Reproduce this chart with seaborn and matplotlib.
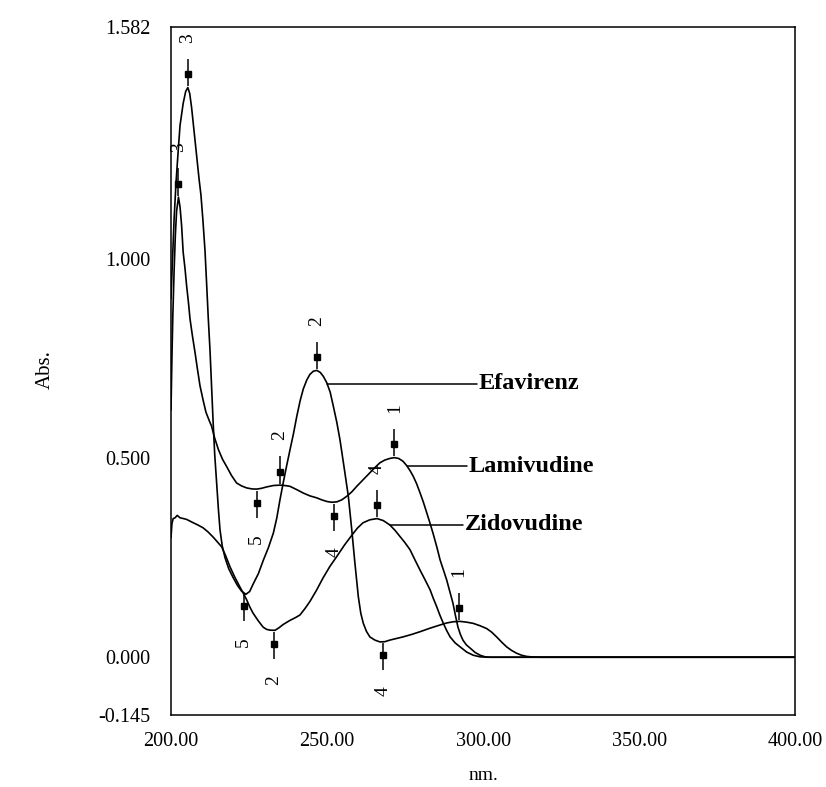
import numpy as np
import pandas as pd
import matplotlib
matplotlib.use("Agg")
import matplotlib.pyplot as plt
import seaborn as sns

# ---------------- data ----------------
efa_nm = [200.0, 200.5, 201.0, 201.6, 202.3, 202.9, 203.9, 204.7, 205.4, 206.0, 206.6, 207.4,
          208.2, 209.0, 209.6, 210.2, 210.9, 211.4, 211.95, 212.5, 213.0, 213.5, 214.0, 214.6,
          215.2, 215.7, 216.4, 217.3, 218.5, 219.9, 221.3, 222.6, 224.0, 225.2, 226.4, 228.0,
          229.6, 231.2, 232.8, 233.9, 234.9, 236.0, 237.0, 238.1, 239.2, 240.3, 241.4, 242.4,
          243.5, 244.5, 245.6, 246.7, 247.8, 248.8, 249.9, 251.0, 252.0, 253.1, 254.1, 255.0,
          255.7, 256.8, 257.9, 258.9, 260.0, 260.8, 261.6, 262.6, 263.7, 265.3, 266.9, 268.5,
          270.1, 272.2, 274.3, 277.0, 279.75, 283.0, 286.2, 288.3, 290.4, 292.6, 294.7, 296.8,
          299.0, 301.1, 302.7, 304.3, 305.9, 307.5, 309.1, 310.7, 312.3, 313.9, 316.0, 318.2, 400.0]
efa_abs = [0.90, 1.00, 1.10, 1.19, 1.27, 1.335, 1.39, 1.42, 1.43, 1.415, 1.38, 1.32,
           1.26, 1.20, 1.16, 1.10, 1.02, 0.94, 0.85, 0.77, 0.68, 0.59, 0.51, 0.44,
           0.37, 0.32, 0.28, 0.25, 0.222, 0.20, 0.18, 0.166, 0.158, 0.165, 0.185, 0.21,
           0.244, 0.275, 0.312, 0.35, 0.395, 0.44, 0.479, 0.52, 0.56, 0.605, 0.645, 0.674,
           0.696, 0.71, 0.718, 0.72, 0.715, 0.705, 0.689, 0.665, 0.63, 0.59, 0.547, 0.50,
           0.463, 0.404, 0.32, 0.237, 0.152, 0.11, 0.085, 0.065, 0.051, 0.043, 0.0385, 0.039,
           0.043, 0.047, 0.051, 0.057, 0.064, 0.073, 0.081, 0.086, 0.089, 0.090, 0.088, 0.085,
           0.079, 0.072, 0.063, 0.051, 0.038, 0.026, 0.017, 0.010, 0.005, 0.002, 0.0005, 0.0, 0.0]

lam_nm = [200.0, 200.3, 200.6, 201.0, 201.4, 201.8, 202.4, 202.9, 203.4, 203.9, 204.5, 205.0,
          205.6, 206.1, 206.9, 207.7, 208.5, 209.3, 210.3, 211.2, 212.2, 213.0, 214.0, 215.2,
          216.5, 217.8, 219.4, 221.0, 222.6, 224.25, 225.9, 227.45, 229.0, 230.65, 232.8, 234.9,
          236.5, 238.1, 240.2, 242.4, 244.5, 246.7, 248.3, 249.9, 251.5, 253.1, 254.7, 256.3,
          257.9, 259.5, 261.6, 263.7, 265.3, 266.9, 268.5, 270.1, 271.5, 272.9, 274.3, 275.5,
          276.6, 277.6, 278.7, 279.75, 280.8, 281.9, 282.9, 283.9, 285.1, 286.2, 287.3, 288.3,
          289.3, 290.3, 291.1, 291.9, 292.7, 293.5, 294.6, 295.8, 297.4, 299.0, 300.6, 302.2, 400.0]
lam_abs = [0.62, 0.75, 0.86, 0.97, 1.06, 1.12, 1.155, 1.13, 1.084, 1.017, 0.975, 0.933,
           0.89, 0.849, 0.805, 0.765, 0.722, 0.681, 0.645, 0.615, 0.595, 0.58, 0.55, 0.521,
           0.497, 0.479, 0.456, 0.4375, 0.43, 0.425, 0.4225, 0.422, 0.424, 0.4275, 0.431, 0.432,
           0.431, 0.429, 0.421, 0.412, 0.405, 0.40, 0.395, 0.391, 0.389, 0.390, 0.395, 0.404,
           0.415, 0.429, 0.446, 0.463, 0.476, 0.488, 0.495, 0.499, 0.501, 0.499, 0.492, 0.481,
           0.468, 0.454, 0.435, 0.413, 0.39, 0.363, 0.338, 0.312, 0.278, 0.244, 0.218, 0.194,
           0.165, 0.136, 0.105, 0.076, 0.057, 0.043, 0.031, 0.023, 0.012, 0.005, 0.001, 0.0, 0.0]

zid_nm = [200.0, 200.3, 200.7, 201.3, 202.0, 202.9, 204.0, 205.0, 207.0, 208.6, 210.25, 211.8,
          213.45, 214.8, 216.24, 217.5, 218.9, 220.5, 222.1, 223.2, 224.25, 225.2, 226.26, 227.9,
          229.5, 230.6, 231.7, 233.3, 234.6, 235.9, 238.0, 240.0, 241.3, 242.9, 244.5, 246.6,
          248.7, 250.9, 253.2, 255.6, 258.0, 259.7, 261.5, 263.7, 266.0, 268.0, 270.1, 271.7,
          273.35, 274.9, 276.55, 278.1, 279.75, 281.4, 283.0, 284.0, 285.1, 286.1, 287.2, 288.3,
          289.4, 291.0, 292.6, 294.7, 296.8, 299.0, 301.1, 400.0]
zid_abs = [0.30, 0.335, 0.348, 0.350, 0.356, 0.350, 0.348, 0.346, 0.338, 0.332, 0.325, 0.315,
           0.302, 0.29, 0.277, 0.255, 0.227, 0.20, 0.176, 0.16, 0.144, 0.127, 0.111, 0.092,
           0.0756, 0.07, 0.068, 0.0675, 0.074, 0.082, 0.092, 0.100, 0.106, 0.122, 0.14, 0.168,
           0.199, 0.228, 0.254, 0.282, 0.307, 0.324, 0.3375, 0.345, 0.348, 0.343, 0.332, 0.319,
           0.303, 0.288, 0.27, 0.245, 0.219, 0.194, 0.169, 0.148, 0.127, 0.106, 0.0856, 0.067,
           0.051, 0.036, 0.026, 0.013, 0.005, 0.001, 0.0, 0.0]

drugs = ["Efavirenz", "Lamivudine", "Zidovudine"]

# peak / valley picks: (drug, wavelength, kind, label)
pick_drug = ["Efavirenz", "Efavirenz", "Efavirenz", "Efavirenz", "Efavirenz",
             "Lamivudine", "Lamivudine", "Lamivudine", "Lamivudine", "Lamivudine",
             "Zidovudine", "Zidovudine"]
pick_nm = [205.4, 246.7, 292.2, 223.3, 268.0,
           202.4, 234.9, 271.5, 227.5, 252.3,
           266.0, 233.0]
pick_kind = ["peak", "peak", "peak", "valley", "valley",
             "peak", "peak", "peak", "valley", "valley",
             "peak", "valley"]
pick_label = ["3", "2", "1", "5", "4",
              "3", "2", "1", "5", "4",
              "4", "2"]

# name labels: wavelength where leader starts, where it ends
name_start_nm = [250.0, 275.6, 270.1]
name_end_nm = [298.0, 294.8, 293.5]

x_ticks = [200, 250, 300, 350, 400]
x_tick_labels = ["200.00", "250.00", "300.00", "350.00", "400.00"]
y_ticks = [-0.145, 0.0, 0.5, 1.0, 1.5, 1.582]
y_tick_labels = ["-0.145", "0.000", "0.500", "1.000", "", "1.582"]

# ---------------- build ----------------
series = {"Efavirenz": (efa_nm, efa_abs), "Lamivudine": (lam_nm, lam_abs),
          "Zidovudine": (zid_nm, zid_abs)}
df = pd.concat([pd.DataFrame({"nm": v[0], "abs": v[1], "drug": k}) for k, v in series.items()],
               ignore_index=True)

sns.set_theme(style="white")
plt.rcParams["font.family"] = ["Liberation Serif", "DejaVu Serif"]

fig = plt.figure(figsize=(8.26, 7.87), dpi=100)
ax = fig.add_axes([0.207, 0.0915, 0.963 - 0.207, 0.9657 - 0.0915])

sns.lineplot(data=df, x="nm", y="abs", hue="drug", palette={d: "black" for d in drugs},
             estimator=None, sort=False, legend=False, linewidth=1.2, ax=ax)

for d, w, k, lab in zip(pick_drug, pick_nm, pick_kind, pick_label):
    xs, ys = series[d]
    v = float(np.interp(w, xs, ys))
    s = 1 if k == "peak" else -1
    ax.plot([w, w], [v + s * 0.004, v + s * 0.072], color="black", lw=1.1, solid_capstyle="butt")
    ax.plot([w], [v + s * 0.034], marker="s", ms=4.2, color="black", mec="black")
    ax.text(w, v + s * 0.125, lab, rotation=90, ha="center", va="center",
            fontsize=14, color="black")

for d, x0, x1 in zip(drugs, name_start_nm, name_end_nm):
    xs, ys = series[d]
    v = float(np.interp(x0, xs, ys))
    ax.plot([x0, x1], [v, v], color="black", lw=1.1)
    ax.text(x1 + 0.6, v, d, ha="left", va="center", fontsize=17.5, fontweight="bold",
            color="black")

ax.set_xlim(200, 400)
ax.set_ylim(-0.145, 1.582)
ax.set_xticks(x_ticks)
ax.set_xticklabels(x_tick_labels)
ax.set_yticks(y_ticks)
ax.set_yticklabels(y_tick_labels)
ax.tick_params(axis="both", direction="in", length=8.5, width=1.1, colors="black",
               labelsize=14.5)
ax.tick_params(axis="x", pad=12)
ax.tick_params(axis="y", pad=15)
ax.set_xlabel("")
ax.set_ylabel("")
for sp in ax.spines.values():
    sp.set_visible(True)
    sp.set_color("black")
    sp.set_linewidth(1.1)

fig.text(45 / 826, 1 - 370 / 787, "Abs.", rotation=90, ha="center", va="center",
         fontsize=15, color="black")
fig.text(483 / 826, 1 - 775 / 787, "nm.", ha="center", va="center", fontsize=14,
         color="black")

fig.savefig("out.png", dpi=100, facecolor="white")
